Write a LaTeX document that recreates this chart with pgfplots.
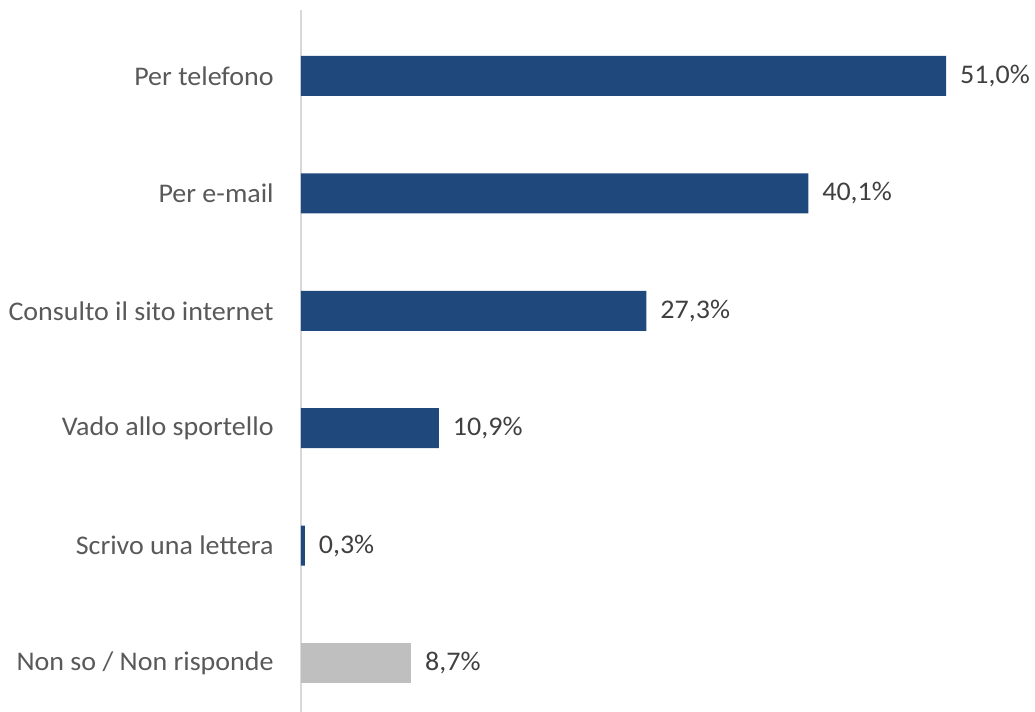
\documentclass[border=0pt]{standalone}
\usepackage{pgfplots}
\pgfplotsset{compat=1.18}
\usepackage{fontspec}
\setmainfont[FakeStretch=1.04]{Carlito}
\definecolor{barblue}{HTML}{1F497D}
\definecolor{bargray}{HTML}{BFBFBF}
\definecolor{labgray}{HTML}{595959}
\definecolor{valgray}{HTML}{404040}
\definecolor{axgray}{HTML}{D9D9D9}
\begin{document}
\begin{tikzpicture}
\begin{axis}[
  scale only axis,
  width=550.5pt, height=526.5pt,
  at={(0,0)}, anchor=south west,
  xmin=0, xmax=58.02,
  ymin=-0.417, ymax=5.562,
  axis x line=none,
  axis y line*=left,
  y axis line style={draw=axgray, line width=0.8pt, -},
  ytick={0,1,2,3,4,5},
  yticklabels={Non so / Non risponde, Scrivo una lettera, Vado allo sportello, Consulto il sito internet, Per e-mail, Per telefono},
  major tick length=0pt,
  yticklabel style={font=\fontsize{20.2}{24}\selectfont, text=labgray, xshift=-17pt},
  xbar, bar width=30pt, bar shift=0pt,
  clip=false,
  point meta=explicit symbolic,
  nodes near coords,
  nodes near coords style={font=\fontsize{20.2}{24}\selectfont, text=valgray, anchor=west, xshift=7pt},
]
\addplot[fill=barblue, draw=none] table[meta=lab] {
x y lab
51.0 5 51,0\%
40.1 4 40,1\%
27.3 3 27,3\%
10.9 2 10,9\%
0.3 1 0,3\%
};
\addplot[fill=bargray, draw=none] table[meta=lab] {
x y lab
8.7 0 8,7\%
};
\end{axis}
\pgfresetboundingbox
\path (-225.75pt,0pt) rectangle (550.5pt,534pt);
\end{tikzpicture}
\end{document}
